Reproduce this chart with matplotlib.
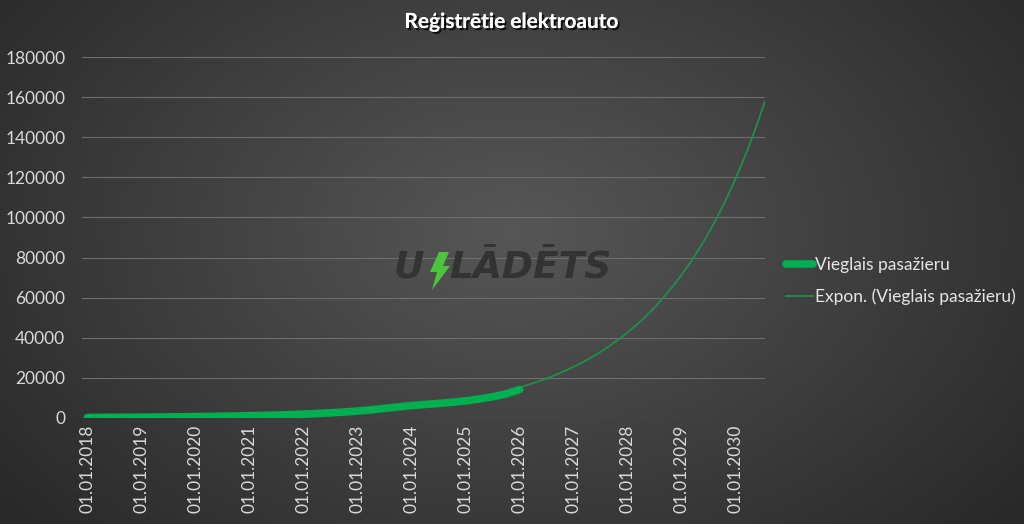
import numpy as np
import pandas as pd
import matplotlib
matplotlib.use("Agg")
import matplotlib.pyplot as plt
import matplotlib.dates as mdates
import matplotlib.patheffects as pe
from matplotlib.patches import Polygon

plt.rcParams['font.family'] = ['Lato', 'DejaVu Sans']

# registered light passenger EVs, quarterly
dates = pd.date_range("2018-01-01", "2026-01-01", freq="QS")
values = [250, 280, 315, 360,
          410, 465, 525, 600,
          690, 785, 885, 1000,
          1140, 1290, 1475, 1675,
          1925, 2225, 2575, 2975,
          3475, 4075, 4775, 5500,
          6200, 6750, 7250, 7850,
          8550, 9450, 10550, 12000,
          14200]
title = "Reģistrētie elektroauto"
series_label = "Vieglais pasažieru"
trend_label = "Expon. (Vieglais pasažieru)"
tick_years = list(range(2018, 2031))
yticks = list(range(0, 180001, 20000))

# exponential trend like Excel (fit on log values)
t = mdates.date2num(dates)
b, a = np.polyfit(t, np.log(values), 1)
t_end = mdates.date2num(pd.Timestamp("2030-07-18"))
tt = np.linspace(t[0], t_end, 300)
trend = np.exp(a + b * tt)

fig = plt.figure(figsize=(10.24, 5.24), dpi=100)

# radial gradient background
bg = fig.add_axes([0, 0, 1, 1], zorder=-10)
yy, xx = np.mgrid[0:524, 0:1024]
r = np.sqrt(((xx - 512) / 620.0) ** 2 + ((yy - 230) / 420.0) ** 2)
shade = np.clip(0.34 - 0.17 * r, 0.16, 0.34)
bg.imshow(np.dstack([shade] * 3), extent=[0, 1, 0, 1], aspect='auto')
bg.axis('off')

ax = fig.add_axes([82 / 1024, 1 - 418 / 524, (765 - 82) / 1024, (418 - 57) / 524])
ax.patch.set_alpha(0)

ax.plot(tt, trend, color='#1f8f4c', lw=1.3, label=trend_label, zorder=2)
ax.plot(t, values, color='#00b050', lw=5.5, solid_capstyle='round',
        label=series_label, zorder=3)

ax.set_xlim(mdates.date2num(pd.Timestamp("2017-11-25")), t_end)
ax.set_ylim(0, 180000)
ax.set_yticks(yticks)
ax.set_yticklabels([str(v) for v in yticks])
xt = [mdates.date2num(pd.Timestamp(f"{y}-01-01")) for y in tick_years]
ax.set_xticks(xt)
ax.set_xticklabels([f"01.01.{y}" for y in tick_years], rotation=90)
ax.tick_params(colors='#d9d9d9', labelsize=12.5, length=0)
ax.tick_params(axis='y', pad=12)
ax.tick_params(axis='x', pad=5)
for s in ax.spines.values():
    s.set_visible(False)
ax.grid(axis='y', color='#6e6e6e', lw=0.8)
ax.set_axisbelow(True)

h, l = ax.get_legend_handles_labels()
leg = fig.legend(h[::-1], l[::-1], loc='center left', bbox_to_anchor=(770 / 1024, 1 - 281 / 524),
                 frameon=False, fontsize=12.5, handlelength=1.6, handletextpad=0.1,
                 labelspacing=0.9, labelcolor='#e6e6e6')

fig.text(0.5, 1 - 22 / 524, title, ha='center', va='center', fontsize=15, fontweight='bold',
         color='white', path_effects=[pe.withSimplePatchShadow(offset=(1.5, -1.5), shadow_rgbFace='black', alpha=0.8),
                                      pe.Normal()])

# watermark
wm = dict(fontsize=27, fontweight='bold', style='italic', color='#333333',
          family='DejaVu Sans', va='center')
fig.text(393 / 1024, 1 - 268 / 524, "U", ha='left', **wm)
fig.text(449 / 1024, 1 - 268 / 524, "LĀDĒTS", ha='left', **wm)
bolt = [(439, 252), (449, 252), (443, 266), (450, 266), (432, 290), (437, 272), (430, 272)]
fig.patches.append(Polygon([(x / 1024, 1 - y / 524) for x, y in bolt], closed=True,
                           transform=fig.transFigure, facecolor='#4cc43c', edgecolor='none'))

fig.savefig("out.png", dpi=100)
